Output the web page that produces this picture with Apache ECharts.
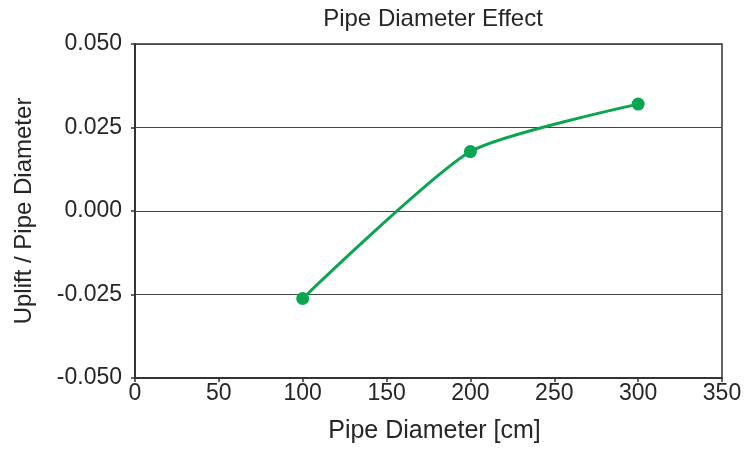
<!DOCTYPE html>
<html>
<head>
<meta charset="utf-8">
<script src="https://cdn.jsdelivr.net/npm/echarts@6/dist/echarts.min.js"></script>
<style>html,body{margin:0;padding:0;background:#fff}#c{width:749px;height:450px}</style>
</head>
<body>
<div id="c"></div>
<script>
const titleText = "Pipe Diameter Effect";
const xName = "Pipe Diameter [cm]";
const yName = "Uplift / Pipe Diameter";
const diameters = [100, 200, 300];
const upliftRatio = [-0.0262, 0.0178, 0.0320];

const chart = echarts.init(document.getElementById('c'));
const font = "'Liberation Sans', Arial, sans-serif";
const txt = '#262626';
chart.setOption({
  animation: false,
  backgroundColor: '#fff',
  title: {
    text: titleText, left: 428, top: 2, textAlign: 'center',
    textStyle: { fontFamily: font, fontSize: 24, fontWeight: 'normal', color: txt }
  },
  grid: { left: 135, right: 27, top: 44, bottom: 72, show: true, borderColor: '#333', borderWidth: 1.5, backgroundColor: 'transparent' },
  xAxis: {
    type: 'value', min: 0, max: 350, interval: 50,
    name: xName, nameLocation: 'middle', nameGap: 41,
    nameTextStyle: { fontFamily: font, fontSize: 25, color: txt, padding: [0, 0, 0, 12] },
    axisLine: { show: true, onZero: false, lineStyle: { color: '#333', width: 2 } },
    axisTick: { show: true, length: 4, lineStyle: { color: '#333', width: 1.5 } },
    axisLabel: { fontFamily: font, fontSize: 23, color: txt, margin: 4 },
    splitLine: { show: false }
  },
  yAxis: {
    type: 'value', min: -0.05, max: 0.05, interval: 0.025,
    name: yName, nameLocation: 'middle', nameGap: 99, nameRotate: 90,
    nameTextStyle: { fontFamily: font, fontSize: 24, color: txt },
    axisLine: { show: true, lineStyle: { color: '#333', width: 2 } },
    axisTick: { show: true, length: 4, lineStyle: { color: '#333', width: 1.5 } },
    axisLabel: { fontFamily: font, fontSize: 23, color: txt, margin: 13, formatter: v => v.toFixed(3) },
    splitLine: { show: true, lineStyle: { color: '#444', width: 1.2 } }
  },
  series: [{
    type: 'line',
    data: diameters.map((d, i) => [d, upliftRatio[i]]),
    smooth: 0.2,
    symbol: 'circle', symbolSize: 13,
    lineStyle: { color: '#0aa550', width: 3 },
    itemStyle: { color: '#0aa550' }
  }]
});
</script>
</body>
</html>
